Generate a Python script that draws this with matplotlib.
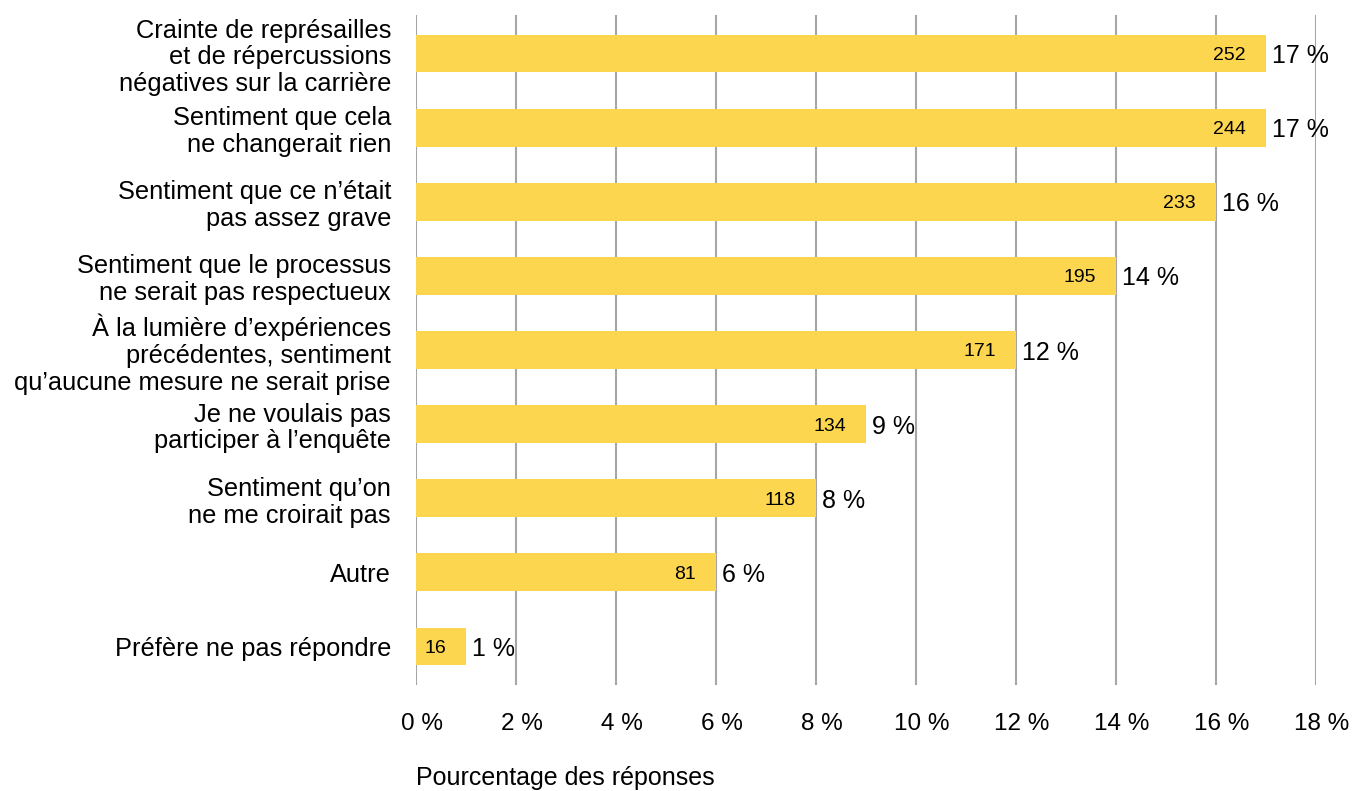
import numpy as np
import matplotlib
matplotlib.use("Agg")
import matplotlib.pyplot as plt
import matplotlib.transforms as mtransforms

plt.rcParams['font.family'] = ['Liberation Sans', 'DejaVu Sans']

categories = [
    "Crainte de représailles\net de répercussions\nnégatives sur la carrière",
    "Sentiment que cela\nne changerait rien",
    "Sentiment que ce n’était\npas assez grave",
    "Sentiment que le processus\nne serait pas respectueux",
    "À la lumière d’expériences\nprécédentes, sentiment\nqu’aucune mesure ne serait prise",
    "Je ne voulais pas\nparticiper à l’enquête",
    "Sentiment qu’on\nne me croirait pas",
    "Autre",
    "Préfère ne pas répondre",
]
counts = [252, 244, 233, 195, 171, 134, 118, 81, 16]
percents = [17, 17, 16, 14, 12, 9, 8, 6, 1]
xticks = [0, 2, 4, 6, 8, 10, 12, 14, 16, 18]

bar_color = "#FDD64F"
grid_color = "#A6A6A6"

fig = plt.figure(figsize=(13.54, 7.91), dpi=100)
ax = fig.add_axes([416 / 1354, 1 - 685 / 791, 900 / 1354, 670 / 791])

y = np.arange(len(categories))
ax.barh(y, percents, height=0.51, color=bar_color, zorder=2)

for yi, n, p in zip(y, counts, percents):
    ax.text(p - 0.4, yi, str(n), ha="right", va="center_baseline", fontsize=14, zorder=3)
    ax.text(p + 0.13, yi, f"{p} %", ha="left", va="center_baseline", fontsize=18, zorder=3)

ax.set_xlim(0, 18)
ax.set_ylim(8.52, -0.52)
ax.set_yticks(y)
ax.set_yticklabels(categories, fontsize=18.3, linespacing=1.15)
ax.set_xticks(xticks)
ax.set_xticklabels([f"{t} %" for t in xticks], fontsize=17.5)
ax.tick_params(axis="both", length=0)
ax.tick_params(axis="x", pad=20)
ax.tick_params(axis="y", pad=18)

# tick labels sit slightly right of their gridlines
shift = mtransforms.ScaledTranslation(6 / 100, 0, fig.dpi_scale_trans)
for lbl in ax.get_xticklabels():
    lbl.set_transform(lbl.get_transform() + shift)

for t in xticks:
    ax.axvline(t, color=grid_color, lw=1.5, zorder=1)

for s in ax.spines.values():
    s.set_visible(False)

fig.text(416 / 1354, 1 - 778 / 791, "Pourcentage des réponses", ha="left", va="center", fontsize=18)

fig.savefig("out.png", dpi=100)
